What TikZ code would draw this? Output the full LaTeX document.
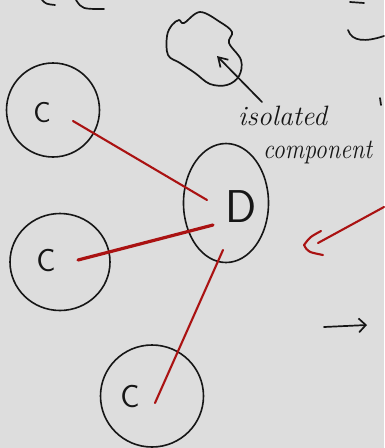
\documentclass[tikz,border=0pt]{standalone}
\usetikzlibrary{shapes.geometric,arrows.meta}
\definecolor{bg}{RGB}{221,221,221}
\definecolor{ink}{RGB}{22,22,22}
\definecolor{redink}{RGB}{170,18,18}
\begin{document}
\begin{tikzpicture}[x=1pt,y=-1pt,
  pen/.style={draw=ink,line width=1.7pt,line cap=round,line join=round},
  rpen/.style={draw=redink,line width=2.1pt,line cap=round,line join=round},
  blob/.style={ellipse,draw=ink,line width=1.6pt,inner sep=0pt},
  letter/.style={font=\sffamily\fontsize{32}{32}\selectfont,text=ink,inner sep=0pt},
  note/.style={font=\itshape\fontsize{28}{28}\selectfont,text=ink,inner sep=0pt}]
\fill[bg] (0,0) rectangle (384,448);
\useasboundingbox (0,0) rectangle (384,448);
% partial scribbles at the top edge
\draw[pen] (42,0) .. controls (46,4) .. (55,5);
\draw[pen] (76,0) .. controls (82,9) .. (104,9);
\draw[pen] (350,2) -- (364,3);
\draw[pen] (348,30) .. controls (352,42) and (366,42) .. (384,36);
\draw[pen] (380,98) -- (381,105);
% isolated component blob
\draw[pen] plot[smooth cycle,tension=0.6] coordinates {(172,25) (179,20) (184,23) (200,12) (220,22) (232,32) (229,43) (241,60) (239,76) (227,85) (210,84) (195,73) (180,63) (168,55) (167,36)};
\coordinate (blobtip) at (217,56);
\node[note,anchor=base west] (iso) at (238,125) {isolated};
\node[note,anchor=base west] (comp) at (263,158) {\scalebox{0.86}[1]{component}};
\draw[pen,-{Straight Barb[length=9pt,width=11pt]}] (262,102) -- (blobtip);
% nodes
\node[blob,minimum width=93pt,minimum height=94pt] (c1) at (53,110) {};
\node[letter,font=\sffamily\fontsize{29}{29}\selectfont] (c1t) at (42,113) {C};
\node[blob,minimum width=100pt,minimum height=97pt] (c2) at (60,262) {};
\node[letter] (c2t) at (46,261) {C};
\node[blob,minimum width=103pt,minimum height=102pt] (c3) at (152,396) {};
\node[letter] (c3t) at (130,397) {C};
\node[blob,minimum width=85pt,minimum height=119pt] (d) at (226,203) {};
\node[letter,font=\sffamily\fontsize{46}{46}\selectfont] (dt) at (241,207) {D};
% red connectors
\coordinate (a1) at (73,121); \coordinate (b1) at (207,200);
\coordinate (a2) at (78,260); \coordinate (b2) at (213,225);
\coordinate (a3) at (155,403); \coordinate (b3) at (223,250);
\draw[rpen] (a1) -- (b1);
\draw[rpen,line width=3.2pt] (a2) .. controls (140,244) .. (b2);
\draw[rpen] (b3) -- (a3);
% red arrow from the right
\coordinate (r0) at (384,207);
\coordinate (r1) at (318,243);
\draw[rpen] (r0) -- (r1);
\draw[rpen] (321,231) .. controls (310,237) .. (304,245) .. controls (308,252) .. (323,255);
% black arrow bottom right
\coordinate (k0) at (324,327);
\coordinate (k1) at (367,325);
\draw[pen,-{Straight Barb[length=7pt,width=14pt]}] (k0) -- (k1);
\end{tikzpicture}
\end{document}
